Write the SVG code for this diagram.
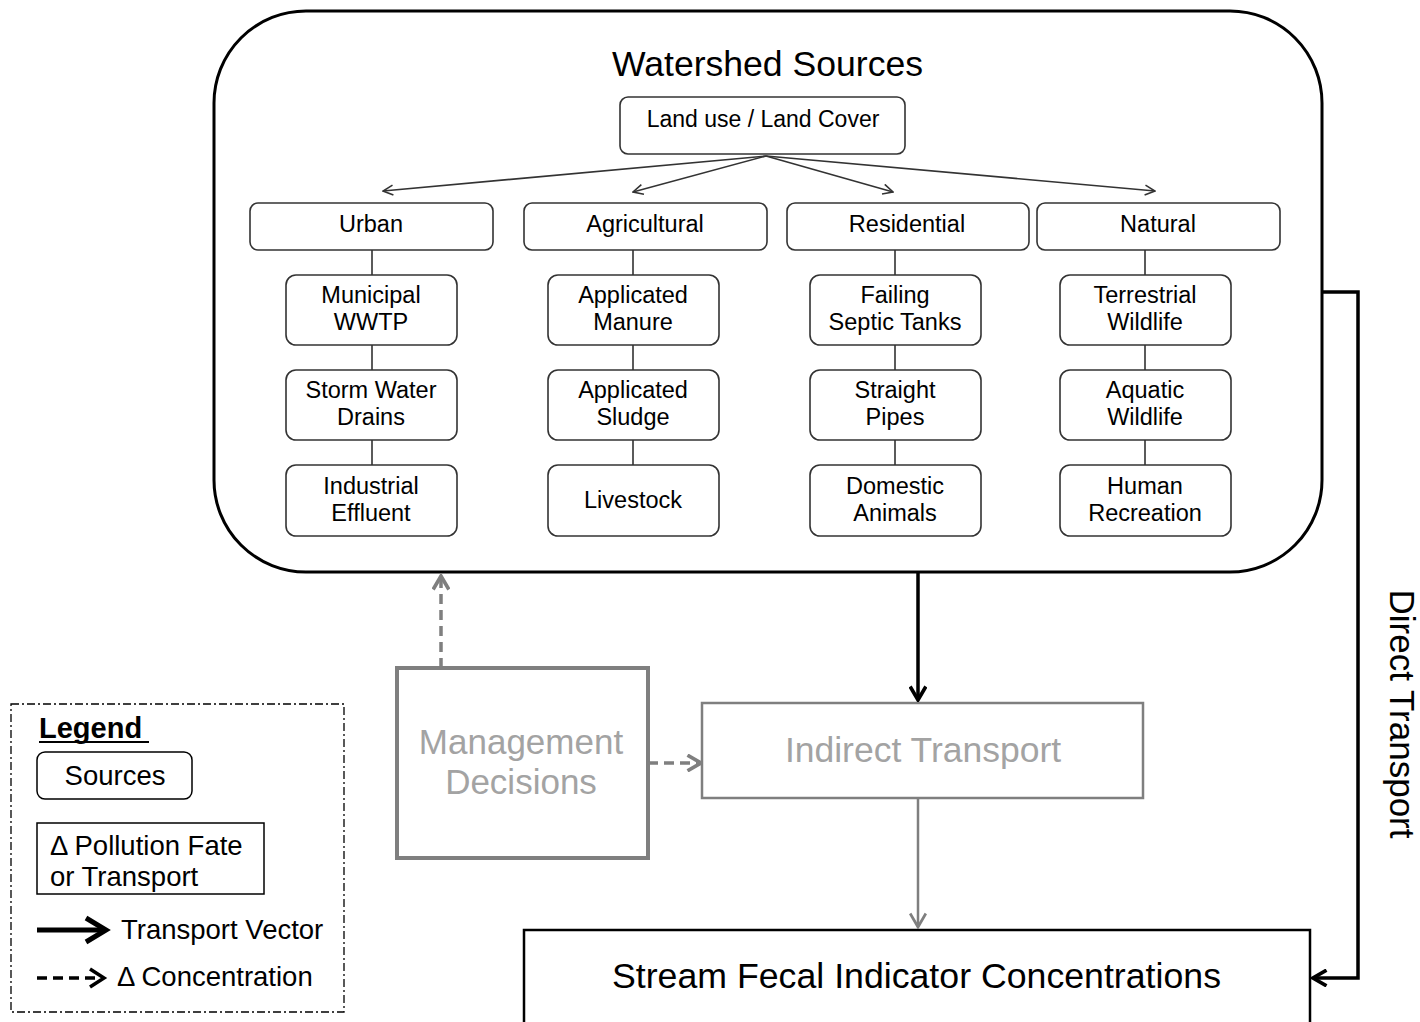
<svg xmlns="http://www.w3.org/2000/svg" width="1420" height="1022" viewBox="0 0 1420 1022">
  <style>
    text { font-family: "Liberation Sans", Arial, sans-serif; fill: #000; }
    .node rect { fill: #fff; stroke: #333; stroke-width: 1.6; }
    .node text { font-size: 23.5px; text-anchor: middle; }
    .tree { stroke: #333; stroke-width: 1.6; fill: none; }
    .branch { stroke: #333; stroke-width: 1.6; fill: none; marker-end: url(#openThin); }
    .big { font-size: 35px; text-anchor: middle; }
    .grey { fill: #a3a3a3; }
    .leg { font-size: 27.5px; }
  </style>
  <defs>
    <marker id="openThin" viewBox="0 0 12 12" refX="11" refY="6" markerWidth="12" markerHeight="12" markerUnits="userSpaceOnUse" orient="auto">
      <path d="M1,1 L11,6 L1,11" fill="none" stroke="#333" stroke-width="1.6"/>
    </marker>
    <marker id="openBlack" viewBox="0 0 16 16" refX="14" refY="8" markerWidth="18" markerHeight="18" markerUnits="userSpaceOnUse" orient="auto">
      <path d="M2,1 L14,8 L2,15" fill="none" stroke="#000" stroke-width="3.2" stroke-linejoin="miter"/>
    </marker>
    <marker id="openGrey" viewBox="0 0 16 16" refX="14" refY="8" markerWidth="18" markerHeight="18" markerUnits="userSpaceOnUse" orient="auto">
      <path d="M2,1 L14,8 L2,15" fill="none" stroke="#7f7f7f" stroke-width="3.2"/>
    </marker>
    <marker id="openGreyThin" viewBox="0 0 16 16" refX="14" refY="8" markerWidth="18" markerHeight="18" markerUnits="userSpaceOnUse" orient="auto">
      <path d="M2,1 L14,8 L2,15" fill="none" stroke="#7f7f7f" stroke-width="2.5"/>
    </marker>
  </defs>

  <rect width="1420" height="1022" fill="#fff"/>

  <!-- Watershed sources container -->
  <g id="watershed-sources">
    <rect x="214" y="11" width="1108" height="561" rx="92" ry="92" fill="#fff" stroke="#000" stroke-width="3"/>
    <text x="612" y="76" font-size="34.5" textLength="311" lengthAdjust="spacingAndGlyphs">Watershed Sources</text>
  </g>

  <!-- Tree connectors inside the container -->
  <g id="tree-connectors">
    <path class="branch" d="M766,156 L383,191"/>
    <path class="branch" d="M766,156 L633,192"/>
    <path class="branch" d="M766,156 L893,192"/>
    <path class="branch" d="M766,156 L1155,191"/>
    <path class="tree" d="M372,250 V275 M372,345 V370 M372,440 V465"/>
    <path class="tree" d="M633,250 V275 M633,345 V370 M633,440 V465"/>
    <path class="tree" d="M895,250 V275 M895,345 V370 M895,440 V465"/>
    <path class="tree" d="M1145,250 V275 M1145,345 V370 M1145,440 V465"/>
  </g>

  <g id="land-use" class="node">
    <rect x="620" y="97" width="285" height="57" rx="8"/>
    <text x="763" y="127" style="font-size:23px">Land use / Land Cover</text>
  </g>

  <g id="urban" class="node"><rect x="250" y="203" width="243" height="47" rx="8"/><text x="371" y="232">Urban</text></g>
  <g id="agricultural" class="node"><rect x="524" y="203" width="243" height="47" rx="8"/><text x="645" y="232">Agricultural</text></g>
  <g id="residential" class="node"><rect x="787" y="203" width="242" height="47" rx="8"/><text x="907" y="232">Residential</text></g>
  <g id="natural" class="node"><rect x="1037" y="203" width="243" height="47" rx="8"/><text x="1158" y="232">Natural</text></g>

  <!-- Urban column -->
  <g id="municipal-wwtp" class="node"><rect x="286" y="275" width="171" height="70" rx="10"/><text x="371" y="303">Municipal</text><text x="371" y="330">WWTP</text></g>
  <g id="storm-water-drains" class="node"><rect x="286" y="370" width="171" height="70" rx="10"/><text x="371" y="398">Storm Water</text><text x="371" y="425">Drains</text></g>
  <g id="industrial-effluent" class="node"><rect x="286" y="465" width="171" height="71" rx="10"/><text x="371" y="494">Industrial</text><text x="371" y="521">Effluent</text></g>

  <!-- Agricultural column -->
  <g id="applicated-manure" class="node"><rect x="548" y="275" width="171" height="70" rx="10"/><text x="633" y="303">Applicated</text><text x="633" y="330">Manure</text></g>
  <g id="applicated-sludge" class="node"><rect x="548" y="370" width="171" height="70" rx="10"/><text x="633" y="398">Applicated</text><text x="633" y="425">Sludge</text></g>
  <g id="livestock" class="node"><rect x="548" y="465" width="171" height="71" rx="10"/><text x="633" y="508">Livestock</text></g>

  <!-- Residential column -->
  <g id="failing-septic-tanks" class="node"><rect x="810" y="275" width="171" height="70" rx="10"/><text x="895" y="303">Failing</text><text x="895" y="330">Septic Tanks</text></g>
  <g id="straight-pipes" class="node"><rect x="810" y="370" width="171" height="70" rx="10"/><text x="895" y="398">Straight</text><text x="895" y="425">Pipes</text></g>
  <g id="domestic-animals" class="node"><rect x="810" y="465" width="171" height="71" rx="10"/><text x="895" y="494">Domestic</text><text x="895" y="521">Animals</text></g>

  <!-- Natural column -->
  <g id="terrestrial-wildlife" class="node"><rect x="1060" y="275" width="171" height="70" rx="10"/><text x="1145" y="303">Terrestrial</text><text x="1145" y="330">Wildlife</text></g>
  <g id="aquatic-wildlife" class="node"><rect x="1060" y="370" width="171" height="70" rx="10"/><text x="1145" y="398">Aquatic</text><text x="1145" y="425">Wildlife</text></g>
  <g id="human-recreation" class="node"><rect x="1060" y="465" width="171" height="71" rx="10"/><text x="1145" y="494">Human</text><text x="1145" y="521">Recreation</text></g>

  <!-- Lower flow nodes -->
  <g id="management-decisions">
    <rect x="397" y="668" width="251" height="190" fill="#fff" stroke="#7f7f7f" stroke-width="4"/>
    <text class="big grey" x="521" y="754">Management</text>
    <text class="big grey" x="521" y="794">Decisions</text>
  </g>

  <g id="indirect-transport">
    <rect x="702" y="703" width="441" height="95" fill="#fff" stroke="#7f7f7f" stroke-width="2.5"/>
    <text class="big grey" x="923" y="762" style="font-size:35.5px">Indirect Transport</text>
  </g>

  <g id="stream-concentrations">
    <rect x="524" y="930" width="786" height="100" fill="#fff" stroke="#000" stroke-width="2.5"/>
    <text x="612" y="988" font-size="35.5" textLength="609" lengthAdjust="spacingAndGlyphs">Stream Fecal Indicator Concentrations</text>
  </g>

  <!-- Flow connectors -->
  <g id="connectors">
    <path d="M918,572 V700" stroke="#000" stroke-width="3.5" fill="none" marker-end="url(#openBlack)"/>
    <path d="M918,798 V927" stroke="#7f7f7f" stroke-width="2.5" fill="none" marker-end="url(#openGreyThin)"/>
    <path d="M1322,292 H1358 V978 H1313" stroke="#000" stroke-width="3.5" fill="none" marker-end="url(#openBlack)"/>
    <path d="M441,668 V576" stroke="#7f7f7f" stroke-width="3.5" stroke-dasharray="10,6" fill="none" marker-end="url(#openGrey)"/>
    <path d="M648,763 H701" stroke="#7f7f7f" stroke-width="3.5" stroke-dasharray="10,6" fill="none" marker-end="url(#openGrey)"/>
    <text x="1390" y="714" font-size="35" text-anchor="middle" transform="rotate(90 1390 714)">Direct Transport</text>
  </g>

  <!-- Legend -->
  <g id="legend">
    <rect x="11" y="704" width="333" height="308" fill="none" stroke="#000" stroke-width="1.3" stroke-dasharray="8,3,2,3"/>
    <text x="39" y="738" font-size="29" font-weight="bold">Legend</text>
    <line x1="39" y1="742" x2="149" y2="742" stroke="#000" stroke-width="2.2"/>
    <rect x="37" y="752" width="155" height="47" rx="8" fill="#fff" stroke="#000" stroke-width="1.5"/>
    <text class="leg" x="115" y="785" text-anchor="middle">Sources</text>
    <rect x="37" y="823" width="227" height="71" fill="#fff" stroke="#000" stroke-width="1.5"/>
    <text class="leg" x="50" y="855">Δ Pollution Fate</text>
    <text class="leg" x="50" y="886">or Transport</text>
    <path d="M37,930 H104" stroke="#000" stroke-width="5" fill="none"/>
    <path d="M86,918 L106,930 L86,942" stroke="#000" stroke-width="5" fill="none" stroke-linejoin="miter"/>
    <text class="leg" x="121" y="939">Transport Vector</text>
    <path d="M37,978 H100" stroke="#000" stroke-width="3.5" stroke-dasharray="10,6" fill="none"/>
    <path d="M90,969 L104,978 L90,987" stroke="#000" stroke-width="3.5" fill="none"/>
    <text class="leg" x="117" y="986">Δ Concentration</text>
  </g>
</svg>
